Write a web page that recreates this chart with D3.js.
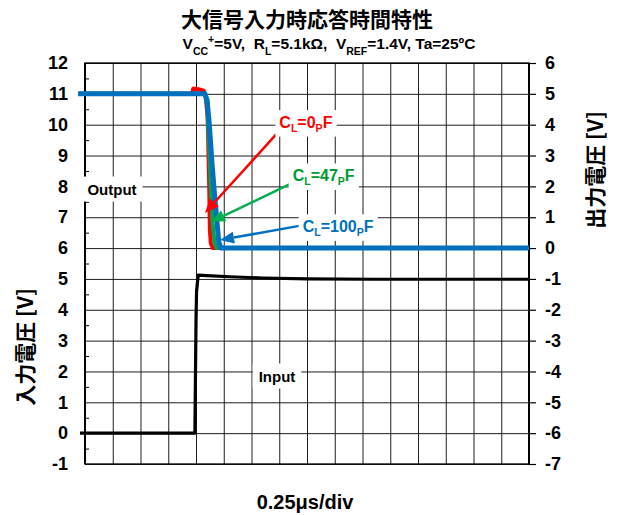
<!DOCTYPE html>
<html>
<head>
<meta charset="utf-8">
<script src="https://cdn.jsdelivr.net/npm/d3@7"></script>
<style>
  html, body { margin: 0; padding: 0; background: #fff; }
  svg { display: block; }
  .lat { font-family: "Liberation Sans", Arial, sans-serif; font-weight: bold; }
  .jp { font-family: "Noto Sans CJK JP", "Noto Sans", sans-serif; font-weight: bold; }
</style>
</head>
<body>
<svg id="chart" width="618" height="515"></svg>
<script>
// Time axis: microseconds, 0.25 µs per division
const timeTicks = d3.range(0, 4.0001, 0.25);
// Left axis (input voltage) and right axis (output voltage) tick labels
const inputTicks = d3.range(-1, 13, 1);
const outputTicks = d3.range(-7, 7, 1);
const inputMinorTicks = d3.range(-0.5, 12, 1);

// Input step waveform [time µs, V] (left axis)
const inputWave = [
  [-0.045, 0], [0.99, 0], [1.0, 3.6], [1.005, 4.6], [1.02, 5.12], [1.1, 5.11],
  [1.3, 5.07], [1.6, 5.03], [2.0, 5.0], [2.6, 4.99], [4.0, 4.99]
];
// Output waveforms [time µs, V] (right axis) for three load capacitances
const outCL0 = [
  [-0.06, 5], [0.965, 5], [0.975, 5.17], [1.02, 5.15], [1.07, 5.1], [1.088, 4.9],
  [1.105, 4.2], [1.118, 2.2], [1.125, 0.6], [1.133, 0.15], [1.152, 0], [4.0, 0]
];
const outCL47 = [
  [-0.06, 5], [1.08, 5], [1.1, 4.6], [1.12, 3.2], [1.135, 1.8], [1.15, 0.8],
  [1.165, 0.2], [1.185, 0], [4.0, 0]
];
const outCL100 = [
  [-0.06, 5], [1.08, 5], [1.1, 4.8], [1.12, 4.0], [1.145, 2.7], [1.17, 1.6],
  [1.19, 0.8], [1.205, 0.2], [1.225, 0], [4.0, 0]
];

const svg = d3.select("#chart");
const m = { left: 85, right: 529, top: 63, bottom: 464 };
const W = m.right - m.left, H = m.bottom - m.top;

const x = d3.scaleLinear().domain([0, 4]).range([m.left, m.right]);
const yL = d3.scaleLinear().domain([-1, 12]).range([m.bottom, m.top]);
const yR = d3.scaleLinear().domain([-7, 6]).range([m.bottom, m.top]);
const fmt = d => String(d);  // plain hyphen-minus for negatives

// Grid
const gx = svg.append("g").attr("transform", `translate(0,${m.bottom})`)
  .call(d3.axisBottom(x).tickValues(timeTicks).tickSize(-H).tickFormat(""));
const gy = svg.append("g").attr("transform", `translate(${m.left},0)`)
  .call(d3.axisLeft(yL).tickValues(inputTicks).tickSize(-W).tickFormat(""));
[gx, gy].forEach(g => {
  g.select(".domain").remove();
  g.selectAll(".tick line").attr("stroke", "#1e1e1e").attr("stroke-width", 1);
});

// Frame
svg.append("rect").attr("x", m.left).attr("y", m.top).attr("width", W).attr("height", H)
  .attr("fill", "none").attr("stroke", "#000").attr("stroke-width", 1.3);
svg.append("line").attr("x1", m.left).attr("x2", m.left).attr("y1", m.top).attr("y2", m.bottom)
  .attr("stroke", "#000").attr("stroke-width", 2);
svg.append("line").attr("x1", m.right).attr("x2", m.right).attr("y1", m.top).attr("y2", m.bottom)
  .attr("stroke", "#000").attr("stroke-width", 2);

// Minor ticks inside the left axis
const gm = svg.append("g").attr("transform", `translate(${m.left},0)`)
  .call(d3.axisRight(yL).tickValues(inputMinorTicks).tickSize(4).tickFormat(""));
gm.select(".domain").remove();
gm.selectAll(".tick line").attr("stroke", "#000");

// Left axis labels
const gl = svg.append("g").attr("transform", `translate(${m.left},0)`)
  .call(d3.axisLeft(yL).tickValues(inputTicks).tickSize(0).tickPadding(17).tickFormat(fmt));
gl.select(".domain").remove();
gl.selectAll("text").attr("class", "lat").attr("font-size", 18).attr("fill", "#000");

// Right axis with outward ticks
const gr = svg.append("g").attr("transform", `translate(${m.right},0)`)
  .call(d3.axisRight(yR).tickValues(outputTicks).tickSize(7).tickPadding(9).tickFormat(fmt));
gr.select(".domain").remove();
gr.selectAll(".tick line").attr("stroke", "#000").attr("stroke-width", 1.2);
gr.selectAll("text").attr("class", "lat").attr("font-size", 18).attr("fill", "#000");

// Waveforms
const lineL = d3.line().x(d => x(d[0])).y(d => yL(d[1]));
const lineR = d3.line().x(d => x(d[0])).y(d => yR(d[1]));

svg.append("path").datum(inputWave).attr("d", lineL)
  .attr("fill", "none").attr("stroke", "#000").attr("stroke-width", 3.2).attr("stroke-linejoin", "round");
svg.append("path").datum(outCL0).attr("d", lineR)
  .attr("fill", "none").attr("stroke", "#ff0000").attr("stroke-width", 4).attr("stroke-linejoin", "round");
svg.append("path").datum(outCL47).attr("d", lineR)
  .attr("fill", "none").attr("stroke", "#00a550").attr("stroke-width", 4).attr("stroke-linejoin", "round");
svg.append("path").datum(outCL100).attr("d", lineR)
  .attr("fill", "none").attr("stroke", "#0070c0").attr("stroke-width", 5).attr("stroke-linejoin", "round");

// Boxed text labels with a white backing
function boxedLabel(parts, cx, cy, color, size, padX, padY) {
  const g = svg.append("g");
  const bg = g.append("rect").attr("fill", "#fff");
  const t = g.append("text").attr("class", "lat").attr("font-size", size)
    .attr("fill", color).attr("x", cx).attr("y", cy)
    .attr("text-anchor", "middle").attr("dominant-baseline", "central");
  parts.forEach(p => {
    const s = t.append("tspan").text(p.t);
    if (p.sub) s.attr("font-size", size * 0.66).attr("baseline-shift", "sub");
  });
  const b = t.node().getBBox();
  bg.attr("x", b.x - padX).attr("y", b.y - padY)
    .attr("width", b.width + 2 * padX).attr("height", b.height + 2 * padY);
  return g;
}

function arrow(x1, y1, x2, y2, color, w) {
  const ang = Math.atan2(y2 - y1, x2 - x1);
  const L = 14, hw = 6;
  const bx = x2 - L * Math.cos(ang), by = y2 - L * Math.sin(ang);
  svg.append("line").attr("x1", x1).attr("y1", y1).attr("x2", bx).attr("y2", by)
    .attr("stroke", color).attr("stroke-width", w);
  const px = -Math.sin(ang), py = Math.cos(ang);
  svg.append("path")
    .attr("d", `M${x2},${y2}L${bx + px * hw},${by + py * hw}L${bx - px * hw},${by - py * hw}Z`)
    .attr("fill", color);
}

// Callouts: start of arrow, arrow tip (time µs, output V) and label centre
const callouts = [
  { parts: [{ t: "C" }, { t: "L", sub: true }, { t: "=0" }, { t: "P", sub: true }, { t: "F" }],
    color: "#ff0000", arrowColor: "#ff0000", from: [1.74, 3.76], to: [1.081, 1.14], at: [1.99, 4.1] },
  { parts: [{ t: "C" }, { t: "L", sub: true }, { t: "=47" }, { t: "P", sub: true }, { t: "F" }],
    color: "#009933", arrowColor: "#00b050", from: [1.85, 2.08], to: [1.135, 0.85], at: [2.15, 2.37] },
  { parts: [{ t: "C" }, { t: "L", sub: true }, { t: "=100" }, { t: "P", sub: true }, { t: "F" }],
    color: "#0070c0", arrowColor: "#0070c0", from: [1.93, 0.72], to: [1.216, 0.26], at: [2.28, 0.72] }
];
callouts.forEach(c => {
  arrow(x(c.from[0]), yR(c.from[1]), x(c.to[0]), yR(c.to[1]), c.arrowColor, 2.5);
});
callouts.forEach(c => {
  boxedLabel(c.parts, x(c.at[0]), yR(c.at[1]), c.color, 16, 4, 3);
});

// Trace names
boxedLabel([{ t: "Output" }], 112, 189, "#000", 15, 6, 4);
boxedLabel([{ t: "Input" }], 277, 376, "#000", 15, 6, 4);

// Title and conditions
svg.append("text").attr("class", "jp").attr("x", 307).attr("y", 27)
  .attr("text-anchor", "middle").attr("font-size", 21).text("大信号入力時応答時間特性");

const sub = svg.append("text").attr("class", "lat").attr("x", 329).attr("y", 49)
  .attr("text-anchor", "middle").attr("font-size", 15.5).attr("xml:space", "preserve");
const subParts = [
  { t: "V" }, { t: "CC", sub: true }, { t: "+", sup: true }, { t: "=5V,  R" }, { t: "L", sub: true },
  { t: "=5.1kΩ,  V" }, { t: "REF", sub: true }, { t: "=1.4V, Ta=25ºC" }
];
subParts.forEach(p => {
  const s = sub.append("tspan").text(p.t);
  if (p.sub) s.attr("font-size", 10.5).attr("baseline-shift", "sub");
  if (p.sup) s.attr("font-size", 10.5).attr("baseline-shift", "super");
});

// Axis titles
svg.append("text").attr("class", "jp").attr("font-size", 21)
  .attr("transform", "translate(24,347) rotate(-90)")
  .attr("text-anchor", "middle").attr("dominant-baseline", "central")
  .text("入力電圧 [V]");
svg.append("text").attr("class", "jp").attr("font-size", 21)
  .attr("transform", "translate(594,170) rotate(-90)")
  .attr("text-anchor", "middle").attr("dominant-baseline", "central")
  .text("出力電圧 [V]");
svg.append("text").attr("class", "lat").attr("font-size", 20)
  .attr("x", 305).attr("y", 509).attr("text-anchor", "middle").text("0.25μs/div");
</script>
</body>
</html>
